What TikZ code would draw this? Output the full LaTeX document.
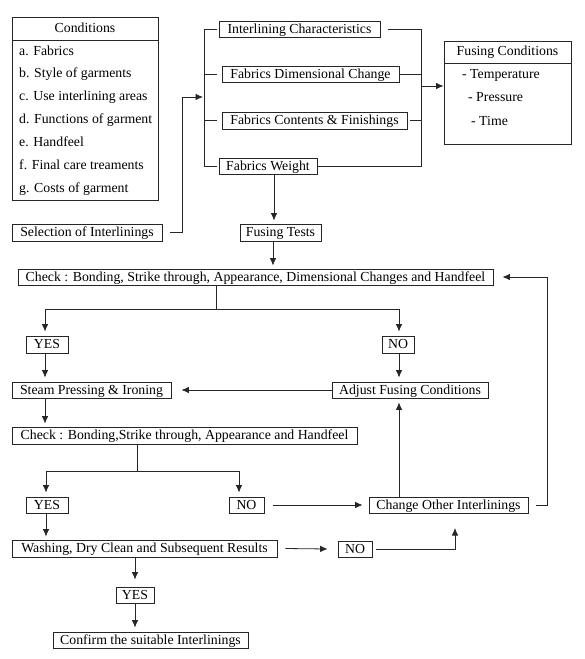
\documentclass[tikz,border=0pt]{standalone}
\usepackage{fontspec}
\setmainfont{Liberation Serif}
\usetikzlibrary{arrows.meta}
\begin{document}
\begin{tikzpicture}[x=1pt,y=-1pt,
  every node/.style={font=\fontsize{13.8}{16}\selectfont, text=black},
  box/.style={draw=black!85, line width=0.8pt, inner sep=0pt, rectangle, text height=9pt, text depth=0.5pt},
  item/.style={anchor=west, inner sep=0pt, text height=9pt, text depth=2.5pt},
  ttl/.style={inner sep=0pt, text height=9pt, text depth=2.5pt},
  ln/.style={draw=black!85, line width=0.8pt},
  arr/.style={ln, -{Latex[length=7.5pt,width=6.5pt]}}]
\useasboundingbox (0,0) rectangle (585,659);
% Conditions
\node[box, minimum width=146, minimum height=183] (cond) at (85,108.5) {};
\draw[ln] (12,40) -- (158,40);
\node[ttl] (condt) at (85,29) {Conditions};
\node[item] (ca) at (19,52) {a. Fabrics};
\node[item] (cb) at (19,74.5) {b. Style of garments};
\node[item] (cc) at (19,97.5) {c. Use interlining areas};
\node[item] (cd) at (19,120.5) {d. Functions of garment};
\node[item] (ce) at (19,143.5) {e. Handfeel};
\node[item] (cf) at (19,166) {f. Final care treaments};
\node[item] (cg) at (19,189) {g. Costs of garment};
% Fusing conditions
\node[box, minimum width=127, minimum height=103] (fc) at (507.5,92.5) {};
\draw[ln] (444,63) -- (571,63);
\node[ttl] (fct) at (507.5,52) {Fusing Conditions};
\node[item] (fc1) at (462,75) {- Temperature};
\node[item] (fc2) at (468,98) {- Pressure};
\node[item] (fc3) at (471,122) {- Time};
% boxes
\node[box, minimum width=150, minimum height=17] (sel) at (87,232.5) {Selection of Interlinings};
\node[box, minimum width=161, minimum height=16] (ic) at (299.5,29) {Interlining Characteristics};
\node[box, minimum width=177, minimum height=16] (fdc) at (310.5,74) {Fabrics Dimensional Change};
\node[box, minimum width=185, minimum height=17] (fcf) at (314.5,120.5) {Fabrics Contents \& Finishings};
\node[box, minimum width=98, minimum height=16] (fw) at (268,166) {Fabrics Weight};
\node[box, minimum width=81, minimum height=17] (ft) at (280.5,232.5) {Fusing Tests};
\node[box, minimum width=475, minimum height=16] (chk1) at (255.5,277) {Check : Bonding, Strike through, Appearance, Dimensional Changes and Handfeel};
\node[box, minimum width=42, minimum height=17] (yes1) at (47,344.5) {YES};
\node[box, minimum width=32, minimum height=17] (no1) at (398,344.5) {NO};
\node[box, minimum width=159, minimum height=16] (steam) at (91.5,390) {Steam Pressing \& Ironing};
\node[box, minimum width=156, minimum height=16] (adj) at (410,390) {Adjust Fusing Conditions};
\node[box, minimum width=345, minimum height=17] (chk2) at (184.5,435.5) {Check : Bonding,Strike through, Appearance and Handfeel};
\node[box, minimum width=42, minimum height=16] (yes2) at (47,505) {YES};
\node[box, minimum width=35, minimum height=16] (no2) at (246.5,505) {NO};
\node[box, minimum width=159, minimum height=16] (chg) at (448.5,505) {Change Other Interlinings};
\node[box, minimum width=265, minimum height=17] (wash) at (144.5,548.5) {Washing, Dry Clean and Subsequent Results};
\node[box, minimum width=34, minimum height=16] (no3) at (355,549) {NO};
\node[box, minimum width=38, minimum height=16] (yes3) at (135,595) {YES};
\node[box, minimum width=195, minimum height=16] (conf) at (150.5,640) {Confirm the suitable Interlinings};
% coordinates
\coordinate (sb1) at (182,232.5);
\coordinate (sb2) at (182,97);
\coordinate (lb) at (203,97);
\coordinate (lt) at (204,29);
\coordinate (lbot) at (204,166);
\coordinate (rt) at (421,29);
\coordinate (rbot) at (421,166);
\coordinate (rb) at (421,86);
\coordinate (s1) at (216,309);
\coordinate (s2) at (137,471);
\coordinate (fb1) at (547,505);
\coordinate (fb2) at (547,277);
\coordinate (cu1) at (455,549);
\coordinate (cu) at (455,528);
% left bracket
\draw[arr] ([xshift=8pt]sel.east) -- (sb1) -- (sb2) -- (lb);
\draw[ln] ([xshift=-2pt]ic.west) -- (lt) -- (lbot) -- ([xshift=-2pt]fw.west);
\draw[ln] (lt |- fdc.west) -- ([xshift=-5pt]fdc.west);
\draw[ln] (lt |- fcf.west) -- ([xshift=-5pt]fcf.west);
% right bracket
\draw[ln] ([xshift=8pt]ic.east) -- (rt) -- (rbot) -- (fw.east);
\draw[ln] (fdc.east) -- (rt |- fdc.east);
\draw[ln] ([xshift=3pt]fcf.east) -- (rt |- fcf.east);
\draw[arr] (rb) -- (rb -| fc.west);
% main flow
\draw[arr] ([xshift=6pt]fw.south) -- ([xshift=6pt,yshift=3pt]fw.south |- ft.north);
\draw[arr] ([xshift=-7.5pt]ft.south) -- ([xshift=-7.5pt,yshift=3pt]ft.south |- chk1.north);
\draw[ln] (s1 |- chk1.south) -- (s1);
\draw[arr] (s1) -| ([xshift=-2pt,yshift=4pt]yes1.north);
\draw[arr] (s1) -| ([xshift=1pt,yshift=4pt]no1.north);
\draw[arr] ([xshift=-2pt]yes1.south) -- ([xshift=-2pt,yshift=4pt]yes1.south |- steam.north);
\draw[arr] ([xshift=1pt]no1.south) -- ([xshift=1pt,yshift=4pt]no1.south |- adj.north);
\draw[arr] (adj.west) -- ([xshift=10pt]steam.east);
\draw[arr] ([xshift=-2pt]yes1.south |- steam.south) -- ([xshift=-2pt,yshift=3pt]yes1.south |- chk2.north);
\draw[ln] (s2 |- chk2.south) -- (s2);
\draw[arr] (s2) -| ([xshift=-1pt,yshift=4pt]yes2.north);
\draw[arr] (s2) -| ([xshift=-7.5pt,yshift=4pt]no2.north);
\draw[arr] ([xshift=9pt]no2.east) -- ([xshift=-6pt]chg.west);
\draw[arr] ([xshift=8pt]chg.east) -- (fb1) -- (fb2) -- ([xshift=9pt]chk1.east);
\draw[arr] ([xshift=1pt]no1.south |- chg.north) -- ([xshift=1pt,yshift=-4pt]no1.south |- adj.south);
\draw[arr] ([xshift=-1pt]yes2.south) -- ([xshift=-1pt,yshift=3pt]yes2.south |- wash.north);
\draw[arr] ([xshift=8pt]wash.east) -- ([xshift=-10pt]no3.west);
\draw[arr] ([xshift=4pt]no3.east) -- (cu1) -- (cu);
\draw[arr] (yes3.north |- wash.south) -- ([yshift=7pt]yes3.north);
\draw[arr] (yes3.south) -- ([yshift=4pt]yes3.south |- conf.north);
\end{tikzpicture}
\end{document}
